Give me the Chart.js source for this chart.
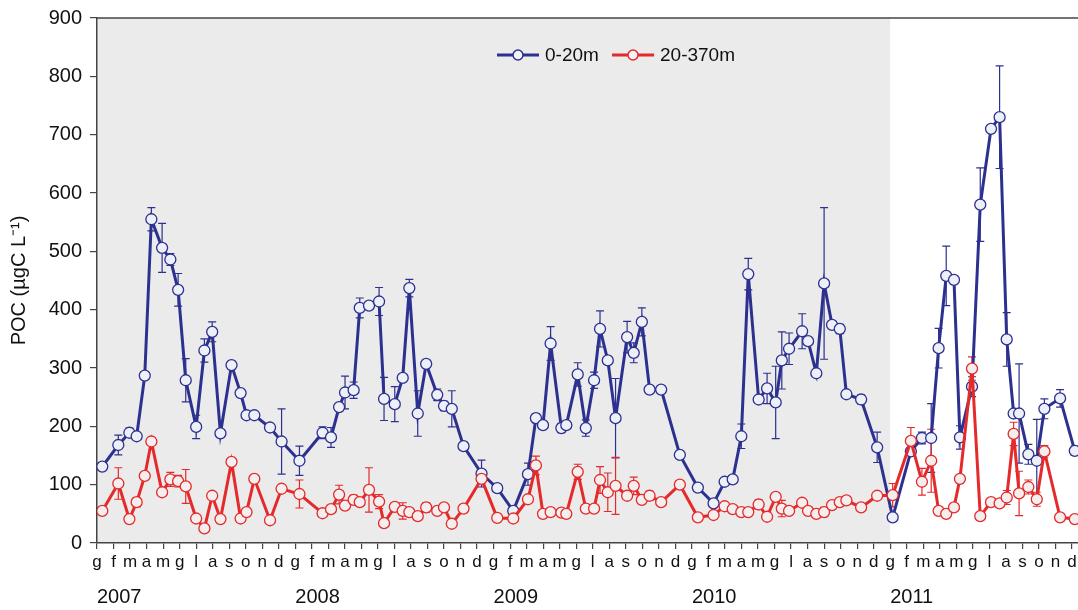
<!DOCTYPE html>
<html>
<head>
<meta charset="utf-8">
<script src="https://cdn.jsdelivr.net/npm/chart.js@4"></script>
<style>
  html, body { margin: 0; background: #fff; overflow: hidden; }
  #wrap { width: 1092px; height: 610px; }
</style>
</head>
<body>
<div id="wrap"><canvas id="myChart"></canvas></div>
<script>
'use strict';

// months since Jan 2007 (sampling dates)
let months = [0.32, 1.29, 1.96, 2.4, 2.89, 3.29, 3.94, 4.44, 4.91, 5.37,
  6.0, 6.5, 6.97, 7.47, 8.14, 8.69, 9.05, 9.52, 10.47, 11.17,
  12.25, 13.65, 14.16, 14.65, 15.01, 15.53, 15.9, 16.46, 17.07, 17.37,
  18.02, 18.5, 18.9, 19.41, 19.92, 20.59, 21.0, 21.47, 22.18, 23.27,
  24.22, 25.19, 26.08, 26.56, 26.99, 27.45, 28.1, 28.4, 29.09, 29.58,
  30.08, 30.44, 30.91, 31.38, 32.08, 32.48, 32.97, 33.44, 34.14, 35.27,
  36.36, 37.31, 37.98, 38.47, 38.99, 39.41, 40.04, 40.55, 41.07, 41.44,
  41.88, 42.67, 43.03, 43.53, 44.0, 44.48, 44.95, 45.35, 46.24, 47.21,
  48.15, 49.25, 49.92, 50.48, 50.93, 51.39, 51.86, 52.22, 52.95, 53.45,
  54.1, 54.62, 55.05, 55.47, 55.8, 56.36, 56.87, 57.33, 58.28, 59.17];

let poc0to20 = [131, 168, 189, 183, 287, 555, 506, 486, 434, 279,
  199, 330, 362, 188, 305, 257, 219, 219, 198, 174,
  141, 189, 181, 233, 258, 262, 403, 407, 414, 247,
  238, 283, 437, 222, 307, 254, 235, 230, 166, 119,
  94, 55, 118, 214, 202, 342, 197, 202, 289, 197,
  279, 367, 313, 214, 353, 326, 379, 263, 263, 151,
  95, 68, 105, 109, 183, 461, 246, 265, 241, 313,
  333, 363, 346, 291, 445, 374, 367, 255, 246, 164,
  44, 157, 180, 180, 334, 458, 451, 181, 268, 580,
  710, 730, 349, 222, 222, 152, 141, 230, 248, 158];

let err0to20 = [0, 17, 8, 0, 0, 20, 42, 10, 28, 37,
  20, 20, 17, 0, 0, 0, 0, 0, 0, 56,
  25, 10, 17, 0, 28, 14, 17, 0, 24, 37,
  30, 0, 15, 39, 0, 10, 8, 31, 0, 23,
  0, 0, 19, 8, 0, 29, 8, 0, 20, 14,
  14, 31, 0, 68, 27, 17, 24, 0, 0, 0,
  0, 0, 0, 0, 21, 27, 0, 26, 62, 49,
  27, 30, 0, 0, 130, 0, 8, 0, 8, 26,
  0, 0, 10, 59, 34, 51, 0, 20, 17, 63,
  0, 88, 46, 0, 85, 17, 71, 17, 15, 8];

let poc20to370 = [55, 102, 41, 70, 115, 174, 87, 109, 106, 97,
  42, 25, 81, 41, 139, 42, 53, 110, 39, 93,
  84, 51, 58, 83, 64, 74, 70, 91, 71, 34,
  62, 55, 53, 46, 61, 55, 61, 33, 59, 110,
  43, 42, 75, 133, 50, 53, 52, 50, 122, 59,
  59, 108, 87, 98, 81, 98, 74, 81, 70, 100,
  44, 48, 63, 58, 53, 53, 66, 45, 79, 59,
  55, 69, 55, 50, 53, 65, 70, 73, 61, 81,
  82, 175, 105, 141, 55, 50, 61, 110, 299, 46,
  70, 68, 78, 187, 85, 96, 75, 157, 44, 41];

let err20to370 = [0, 27, 0, 8, 0, 0, 0, 12, 10, 29,
  0, 0, 0, 0, 0, 0, 0, 0, 0, 0,
  24, 0, 0, 16, 0, 8, 0, 38, 12, 0,
  0, 14, 0, 0, 8, 0, 0, 0, 0, 0,
  0, 0, 0, 16, 0, 0, 0, 0, 13, 0,
  0, 23, 33, 49, 0, 15, 0, 8, 0, 0,
  0, 0, 0, 0, 0, 0, 8, 0, 0, 14,
  0, 0, 0, 0, 8, 0, 0, 0, 0, 0,
  20, 23, 23, 54, 0, 0, 0, 0, 20, 0,
  0, 5, 12, 20, 38, 12, 12, 10, 0, 0];

let monthLabels = ['g', 'f', 'm', 'a', 'm', 'g', 'l', 'a', 's', 'o', 'n', 'd'];
let years = ['2007', '2008', '2009', '2010', '2011'];
let yTicks = [0, 100, 200, 300, 400, 500, 600, 700, 800, 900];
let shadedUntil = 48; // end of 2010

const blue = '#2c3190';
const red = '#e52a2b';
const fontFam = 'Arial, "Liberation Sans", sans-serif';

function toPoints(vals) {
  return vals.map((v, i) => ({ x: months[i], y: v }));
}

const decor = {
  id: 'decor',
  beforeDraw(chart) {
    const ctx = chart.ctx;
    const a = chart.chartArea;
    const xs = chart.scales.x;
    ctx.save();
    ctx.fillStyle = '#ebebeb';
    let x1 = xs.getPixelForValue(shadedUntil);
    ctx.fillRect(a.left, a.top, x1 - a.left, a.bottom - a.top);
    ctx.restore();
  },
  beforeDatasetsDraw(chart) {
    const ctx = chart.ctx;
    const xs = chart.scales.x;
    const ys = chart.scales.y;
    const sets = [[poc0to20, err0to20, blue], [poc20to370, err20to370, red]];
    ctx.save();
    ctx.lineWidth = 1.2;
    sets.forEach(s => {
      ctx.strokeStyle = s[2];
      for (let i = 0; i < months.length; i++) {
        let e = s[1][i];
        if (!e) continue;
        let x = xs.getPixelForValue(months[i]);
        let yt = ys.getPixelForValue(s[0][i] + e);
        let yb = ys.getPixelForValue(Math.max(0, s[0][i] - e));
        ctx.beginPath();
        ctx.moveTo(x, yt); ctx.lineTo(x, yb);
        ctx.moveTo(x - 4, yt); ctx.lineTo(x + 4, yt);
        ctx.moveTo(x - 4, yb); ctx.lineTo(x + 4, yb);
        ctx.stroke();
      }
    });
    ctx.restore();
  },
  afterDraw(chart) {
    const ctx = chart.ctx;
    const a = chart.chartArea;
    const xs = chart.scales.x;
    ctx.save();
    // top frame line
    ctx.strokeStyle = '#444';
    ctx.lineWidth = 1.5;
    ctx.beginPath();
    ctx.moveTo(a.left, a.top);
    ctx.lineTo(chart.width, a.top);
    ctx.stroke();

    // year labels
    ctx.fillStyle = '#111';
    ctx.font = '20px ' + fontFam;
    ctx.textAlign = 'left';
    ctx.textBaseline = 'middle';
    years.forEach((y, i) => {
      ctx.fillText(y, xs.getPixelForValue(i * 12), 597);
    });

    // legend
    const items = [['0-20m', blue, 497], ['20-370m', red, 612]];
    ctx.font = '19px ' + fontFam;
    items.forEach(it => {
      let lx = it[2];
      let ly = 55;
      ctx.strokeStyle = it[1];
      ctx.lineWidth = 3;
      ctx.beginPath();
      ctx.moveTo(lx, ly); ctx.lineTo(lx + 42, ly);
      ctx.stroke();
      ctx.beginPath();
      ctx.arc(lx + 21, ly, 5, 0, Math.PI * 2);
      ctx.fillStyle = '#f2f2f7';
      ctx.fill();
      ctx.lineWidth = 1.5;
      ctx.stroke();
      ctx.fillStyle = '#111';
      ctx.fillText(it[0], lx + 48, ly + 1);
    });
    ctx.restore();
  }
};

const ctx = document.getElementById('myChart');

let config = {
  type: 'line',
  data: {
    datasets: [
      {
        label: '20-370m',
        data: toPoints(poc20to370),
        borderColor: red,
        borderWidth: 3,
        pointRadius: 5.5,
        pointBorderWidth: 1.3,
        pointBackgroundColor: '#f4eeee',
        pointBorderColor: red,
        tension: 0,
        order: 1
      },
      {
        label: '0-20m',
        data: toPoints(poc0to20),
        borderColor: blue,
        borderWidth: 3,
        pointRadius: 5.5,
        pointBorderWidth: 1.3,
        pointBackgroundColor: '#eef0f7',
        pointBorderColor: blue,
        tension: 0,
        order: 2
      }
    ]
  },
  options: {
    responsive: true,
    maintainAspectRatio: false,
    animation: false,
    layout: { padding: { top: 18, right: 0, left: 0, bottom: 0 } },
    plugins: {
      legend: { display: false },
      tooltip: { enabled: false }
    },
    scales: {
      x: {
        type: 'linear',
        min: 0,
        max: 59.8,
        afterFit(s) { s.height = 67; },
        afterBuildTicks(s) {
          s.ticks = [];
          for (let m = 0; m < 60; m++) s.ticks.push({ value: m });
        },
        grid: { drawOnChartArea: false, color: '#444', tickLength: 6, lineWidth: 1.2 },
        border: { color: '#444', width: 1.5 },
        ticks: {
          autoSkip: false,
          maxRotation: 0,
          padding: 3,
          color: '#111',
          font: { family: fontFam, size: 17 },
          callback: (v) => monthLabels[v % 12]
        }
      },
      y: {
        min: 0,
        max: 900,
        afterFit(s) {
          s.width = 97;
          s.paddingTop = 0;
          s.paddingBottom = 0;
        },
        afterBuildTicks(s) {
          s.ticks = yTicks.map(v => ({ value: v }));
        },
        grid: { drawOnChartArea: false, color: '#444', tickLength: 7, lineWidth: 1.2 },
        border: { color: '#444', width: 1.5 },
        ticks: {
          padding: 8,
          color: '#111',
          font: { family: fontFam, size: 20 }
        },
        title: {
          display: true,
          text: 'POC (µgC L⁻¹)',
          color: '#111',
          font: { family: fontFam, size: 20 },
          padding: { top: 7, bottom: 0 }
        }
      }
    }
  },
  plugins: [decor]
};

new Chart(ctx, config);
</script>
</body>
</html>
